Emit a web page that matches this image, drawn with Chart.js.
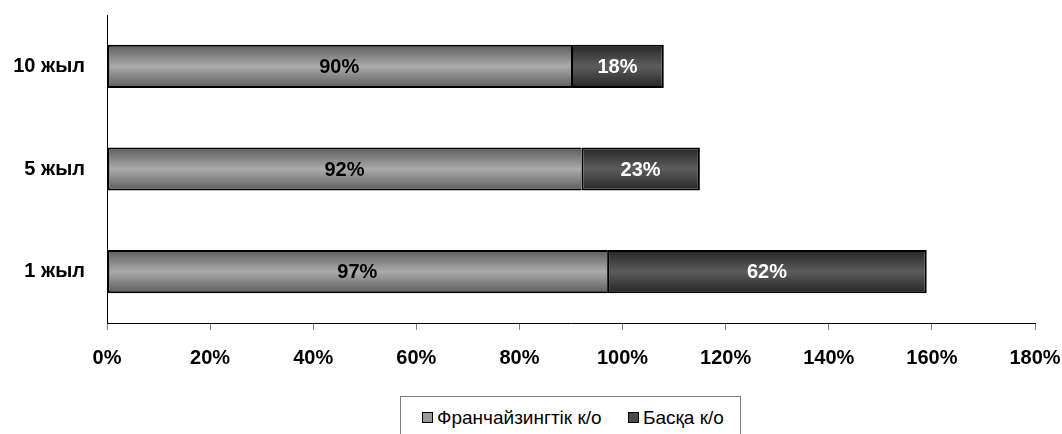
<!DOCTYPE html>
<html>
<head>
<meta charset="utf-8">
<script src="https://cdn.jsdelivr.net/npm/chart.js@4/dist/chart.umd.min.js"></script>
<style>
  html, body { margin: 0; padding: 0; background: #fff; }
  #wrap { position: relative; width: 1062px; height: 434px; overflow: hidden; }
  #legend {
    position: absolute; left: 400px; top: 396px; width: 339px; height: 50px;
    border: 1px solid #7f7f7f; background: #fff;
    font-family: "Liberation Sans", Arial, sans-serif; font-size: 19px; color: #000;
  }
  .item { position: absolute; top: 10px; white-space: nowrap; }
  .box { display: inline-block; width: 9px; height: 9px; border: 1px solid #000; margin-right: 4px; vertical-align: 1px; }
</style>
</head>
<body>
<div id="wrap">
  <canvas id="c" width="1062" height="434"></canvas>
  <div id="legend"></div>
</div>
<script>
// категориялар мен мәндер
const CATEGORIES = ['10 жыл', '5 жыл', '1 жыл'];
const FRANCHISE = [90, 92, 97];
const OTHER = [18, 23, 62];
const SERIES_NAMES = ['Франчайзингтік к/о', 'Басқа к/о'];
const X_TICKS = [0, 20, 40, 60, 80, 100, 120, 140, 160, 180];

const FONT = '"Liberation Sans", Arial, sans-serif';
const BAR_HALF = 21.5;

// вертикаль градиент (шеттері қою, ортасы ашық)
function barGradient(edge, mid) {
  return ctx => {
    const chart = ctx.chart;
    const y = chart.scales.y;
    if (!chart.chartArea || !y || ctx.dataIndex === undefined) return mid;
    const cy = y.getPixelForValue(ctx.dataIndex);
    const g = chart.ctx.createLinearGradient(0, cy - BAR_HALF, 0, cy + BAR_HALF);
    g.addColorStop(0, edge);
    g.addColorStop(0.5, mid);
    g.addColorStop(1, edge);
    return g;
  };
}

// бағандардың ішіндегі жазулар
const valueLabels = {
  id: 'valueLabels',
  afterDatasetsDraw(chart) {
    const c = chart.ctx;
    c.save();
    c.font = 'bold 20px ' + FONT;
    c.textAlign = 'center';
    c.textBaseline = 'middle';
    chart.data.datasets.forEach((ds, i) => {
      const meta = chart.getDatasetMeta(i);
      c.fillStyle = i === 0 ? '#000' : '#fff';
      meta.data.forEach((bar, j) => {
        c.fillText(ds.data[j] + '%', (bar.x + bar.base) / 2, bar.y + 1);
      });
    });
    c.restore();
  }
};

new Chart(document.getElementById('c'), {
  type: 'bar',
  data: {
    labels: CATEGORIES,
    datasets: [
      {
        label: SERIES_NAMES[0],
        data: FRANCHISE,
        backgroundColor: barGradient('#5c5c5c', '#ababab'),
        borderColor: '#000',
        borderWidth: { left: 2, top: 2, bottom: 2, right: 0 },
        borderSkipped: false
      },
      {
        label: SERIES_NAMES[1],
        data: OTHER,
        backgroundColor: barGradient('#262626', '#5c5c5c'),
        borderColor: '#000',
        borderWidth: 2,
        borderSkipped: false
      }
    ]
  },
  options: {
    indexAxis: 'y',
    responsive: false,
    animation: false,
    layout: { padding: { top: 15, right: 27, left: 0, bottom: 0 } },
    datasets: { bar: { categoryPercentage: 1, barPercentage: 0.42 } },
    scales: {
      x: {
        stacked: true,
        min: 0, max: 180,
        afterBuildTicks: s => { s.ticks = X_TICKS.map(v => ({ value: v })); },
        afterFit: s => { s.height = 111; s.paddingLeft = 0; s.paddingRight = 0; },
        border: { display: true, color: '#000', width: 1 },
        grid: { drawOnChartArea: false, drawTicks: true, tickLength: 7, color: '#808080' },
        ticks: {
          padding: 16,
          color: '#000',
          font: { family: FONT, size: 20, weight: 'bold' },
          callback: v => v + '%'
        }
      },
      y: {
        stacked: true,
        afterFit: s => { s.width = 107; s.paddingTop = 0; s.paddingBottom = 0; },
        border: { display: true, color: '#000', width: 1 },
        grid: { display: false, drawTicks: false },
        ticks: {
          padding: 22,
          color: '#000',
          font: { family: FONT, size: 20, weight: 'bold' }
        }
      }
    },
    plugins: {
      legend: { display: false },
      tooltip: { enabled: false }
    }
  },
  plugins: [valueLabels]
});

// легенда
const legend = document.getElementById('legend');
const LEGEND_FILL = ['#9a9a9a', '#4a4a4a'];
const LEGEND_LEFT = [21, 227];
SERIES_NAMES.forEach((name, i) => {
  const el = document.createElement('span');
  el.className = 'item';
  el.style.left = LEGEND_LEFT[i] + 'px';
  el.innerHTML = `<span class="box" style="background:${LEGEND_FILL[i]}"></span>${name}`;
  legend.appendChild(el);
});
</script>
</body>
</html>
